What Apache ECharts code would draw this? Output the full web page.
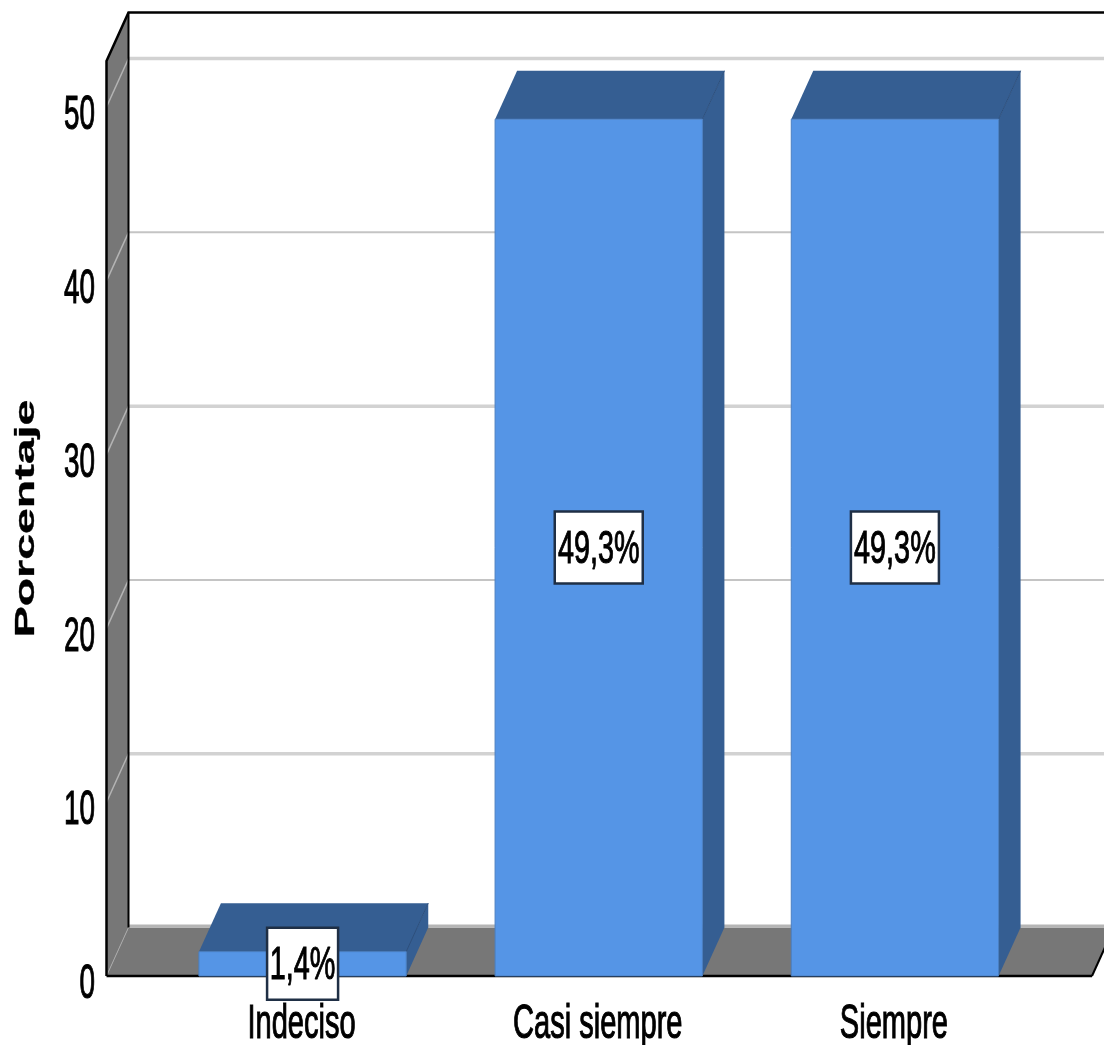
<!DOCTYPE html>
<html>
<head>
<meta charset="utf-8">
<style>html,body{margin:0;padding:0;background:#fff}#c{width:1104px;height:1045px}</style>
<script src="https://cdn.jsdelivr.net/npm/echarts@6/dist/echarts.min.js"></script>
</head>
<body>
<div id="c"></div>
<script>
const categories = ['Indeciso', 'Casi siempre', 'Siempre'];
const percentages = [1.4, 49.3, 49.3];
const valueLabels = ['1,4%', '49,3%', '49,3%'];
const yTicks = [0, 10, 20, 30, 40, 50];
const yMax = 52.65;
const axisTitle = 'Porcentaje';

const DX = 22, DY = -48.5;
const OUT_L = 48, OUT_R = 49;
const BAR_RATIO = 0.7;
const FRONT = '#5595e6', DARK = '#355e92', WALL = '#777777', LINE = '#000000';
const narrow = '48px "Liberation Sans", Arial, sans-serif';

function poly(points, fill, stroke, lw) {
  return { type: 'polygon', shape: { points }, style: { fill, stroke: stroke || null, lineWidth: lw || 0 } };
}
function line(x1, y1, x2, y2, stroke, lw) {
  return { type: 'line', shape: { x1, y1, x2, y2 }, style: { stroke, lineWidth: lw } };
}
function squeezedText(text, x, y, align, sx, sy, font, rotation, heavy) {
  const style = { text, font, fill: '#000', align, verticalAlign: 'middle' };
  if (heavy) { style.stroke = '#000'; style.lineWidth = heavy; }
  return { type: 'text', x, y, scaleX: sx, scaleY: sy, rotation: rotation || 0, style };
}

function renderFrame(params, api) {
  const cs = params.coordSys;
  const L = cs.x - OUT_L, R = cs.x + cs.width + OUT_R;
  const y0 = api.coord([0, 0])[1], yTop = api.coord([0, yMax])[1];
  const kids = [];
  kids.push(poly([[L, yTop], [L + DX, yTop + DY], [L + DX, y0 + DY], [L, y0]], WALL));
  kids.push(poly([[L, y0], [L + DX, y0 + DY], [R + DX, y0 + DY], [R, y0]], WALL));
  kids.push(line(L + DX, y0 + DY - 1.5, R + DX, y0 + DY - 1.5, '#b5b5b5', 3));
  yTicks.forEach(t => {
    const p = api.coord([0, t])[1];
    if (t === 0) {
      kids.push(line(L, p, L + DX, p + DY, '#a9a9a9', 1));
      return;
    }
    kids.push(line(L, p, L + DX, p + DY, '#b4b4b4', 1.5));
    kids.push(line(L + DX, p + DY, R + DX, p + DY, t % 20 === 10 ? '#d2d2d2' : '#c4c4c4', t % 20 === 10 ? 3.5 : 2));
  });
  kids.push({ type: 'polyline', shape: { points: [[L, y0], [L, yTop], [L + DX, yTop + DY], [R + DX, yTop + DY]] }, style: { stroke: LINE, fill: null, lineWidth: 2.5 } });
  kids.push(line(L + DX, yTop + DY, L + DX, y0 + DY, LINE, 2));
  kids.push(line(L, y0, R, y0, LINE, 2.5));
  kids.push(line(R, y0, R + DX, y0 + DY, LINE, 2));
  return { type: 'group', children: kids };
}

function renderBar(params, api) {
  const i = api.value(0), v = api.value(1);
  const base = api.coord([i, 0]), top = api.coord([i, v]);
  const w = api.size([1, 0])[0] * BAR_RATIO;
  const l = base[0] - w / 2, r = base[0] + w / 2;
  return {
    type: 'group', children: [
      poly([[l, top[1]], [l + DX, top[1] + DY], [r + DX, top[1] + DY], [r, top[1]]], DARK),
      poly([[r, top[1]], [r + DX, top[1] + DY], [r + DX, base[1] + DY], [r, base[1]]], DARK),
      line(r, top[1], r + DX, top[1] + DY, '#2c4f7d', 1),
      { type: 'rect', shape: { x: l, y: top[1], width: w, height: base[1] - top[1] }, style: { fill: FRONT, stroke: '#4a7fc2', lineWidth: 1 } }
    ]
  };
}

function renderValueLabel(params, api) {
  const i = api.value(0), v = api.value(1);
  const c = api.coord([i, v / 2]);
  const text = valueLabels[i];
  const bw = text.length > 4 ? 88 : 71, bh = 72;
  return {
    type: 'group', children: [
      { type: 'rect', shape: { x: c[0] - bw / 2, y: c[1] - bh / 2, width: bw, height: bh }, style: { fill: '#fff', stroke: '#1f2f45', lineWidth: 2.5 } },
      squeezedText(text, c[0], c[1] + 2, 'center', 0.6, 0.98, narrow, 0, 1.1)
    ]
  };
}

function renderTexts(params, api) {
  const cs = params.coordSys;
  const kids = [];
  yTicks.forEach(t => {
    const p = api.coord([0, t]);
    kids.push(squeezedText(String(t), 95, p[1] + 9, 'right', 0.58, 1, narrow, 0, 1.1));
  });
  categories.forEach((c, i) => {
    const p = api.coord([i, 0]);
    kids.push(squeezedText(c, p[0] - 1, p[1] + 49, 'center', 0.605, 1, narrow, 0, 1.1));
  });
  kids.push(squeezedText(axisTitle, 26, cs.y + cs.height / 2, 'center', 1.66, 1,
    'bold 28px "Liberation Sans", Arial, sans-serif', Math.PI / 2, 0.3));
  return { type: 'group', children: kids };
}

const chart = echarts.init(document.getElementById('c'), null, { renderer: 'canvas' });
chart.setOption({
  animation: false,
  backgroundColor: '#fff',
  grid: { left: 154.5, right: 61, top: 61, bottom: 69 },
  xAxis: { type: 'category', data: categories, axisLabel: { show: false }, axisLine: { show: false }, axisTick: { show: false } },
  yAxis: { type: 'value', min: 0, max: yMax, interval: 10, axisLabel: { show: false }, axisLine: { show: false }, axisTick: { show: false }, splitLine: { show: false } },
  series: [
    { type: 'custom', z: 1, renderItem: renderFrame, data: [[0, 0]], silent: true },
    { type: 'custom', z: 2, renderItem: renderBar, data: categories.map((c, i) => [i, percentages[i]]), encode: { x: 0, y: 1 } },
    { type: 'custom', z: 3, renderItem: renderValueLabel, data: categories.map((c, i) => [i, percentages[i]]), encode: { x: 0, y: 1 } },
    { type: 'custom', z: 4, renderItem: renderTexts, data: [[0, 0]], silent: true }
  ]
});
</script>
</body>
</html>
